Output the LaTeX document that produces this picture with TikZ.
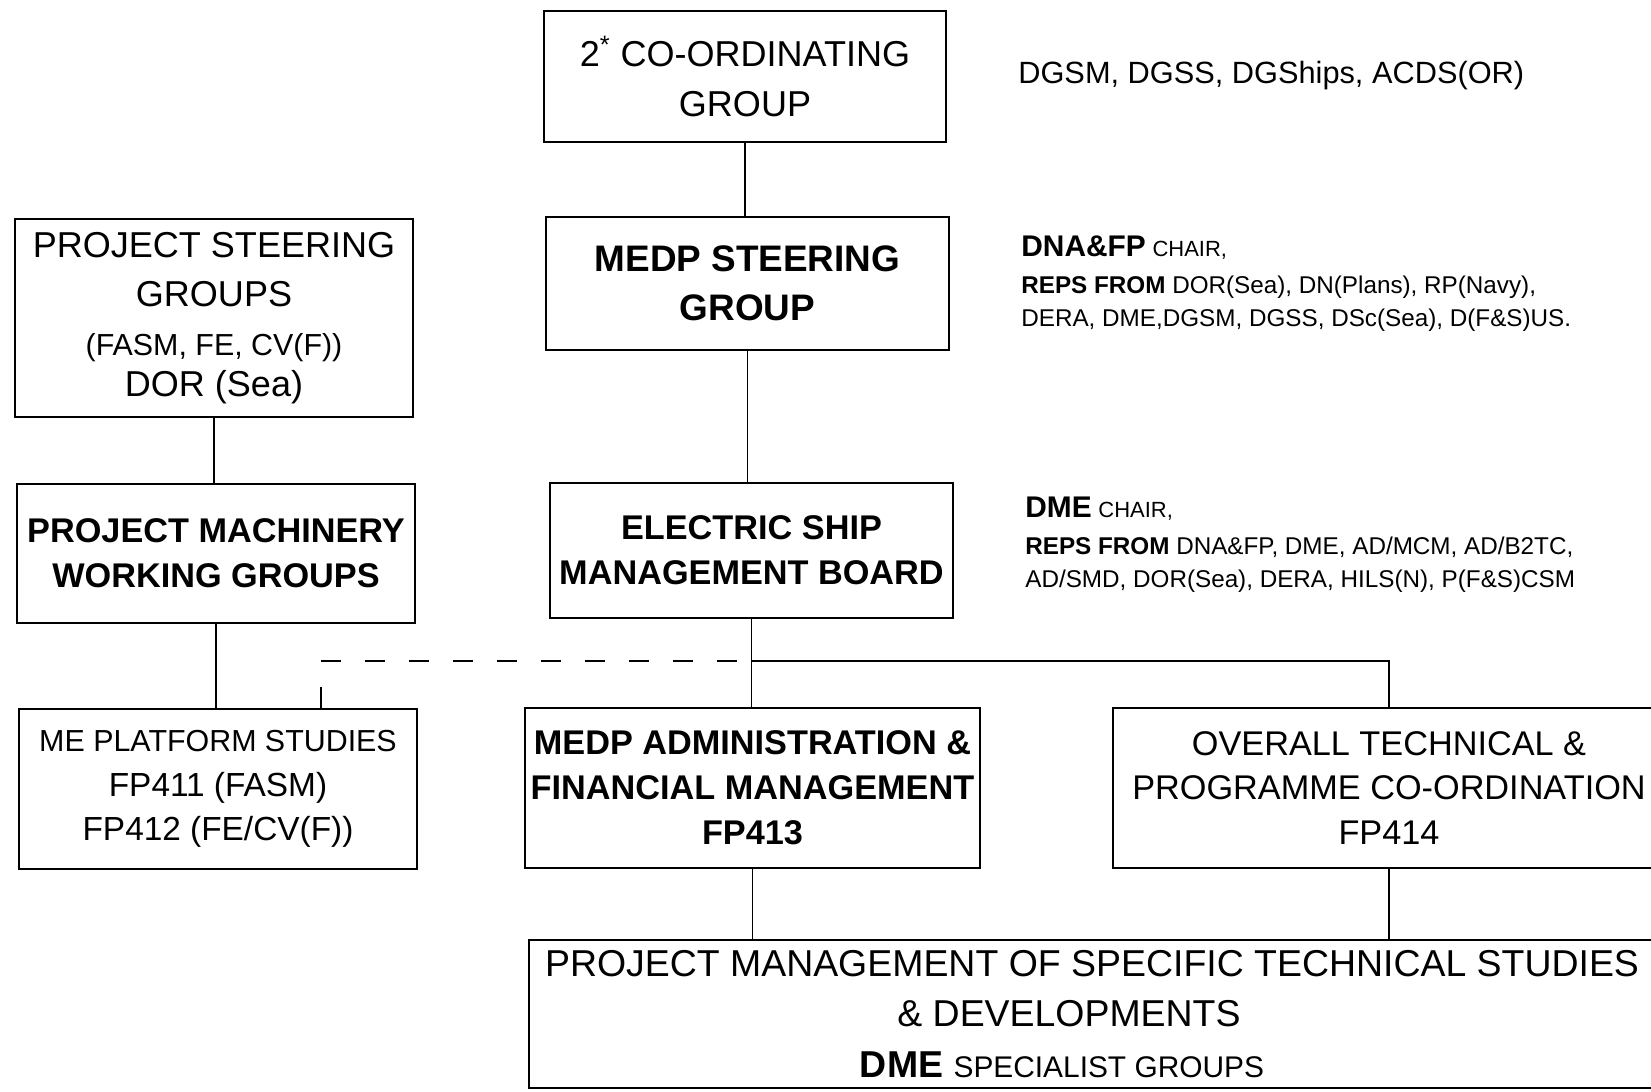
\documentclass[tikz,border=0pt]{standalone}
\usepackage{fontspec}
\setmainfont{Liberation Sans}
\usetikzlibrary{calc}

\begin{document}
\begin{tikzpicture}[
  box/.style={draw, line width=1.2pt, align=center, inner sep=0pt, font=\fontsize{20.5}{28}\selectfont},
  boxm/.style={box, font=\fontsize{19.5}{25.5}\selectfont},
  boxb/.style={box, font=\fontsize{19.5}{25.5}\selectfont\bfseries},
  link/.style={line width=0.85pt},
  dlink/.style={line width=1.2pt, dash pattern=on 0.4cm off 0.48cm},
  note/.style={anchor=west, align=left, inner sep=0pt, font=\fontsize{13.8}{19}\selectfont}
]
  \useasboundingbox (0,0) rectangle (33.02,21.82);

  % ----- Central column -----
  \node[box, minimum width=8.04cm, minimum height=2.62cm] (coord) at (14.9,20.29) {2\textsuperscript{*} CO-ORDINATING\\GROUP};
  \node[box, minimum width=8.06cm, minimum height=2.66cm, font=\fontsize{21}{28}\selectfont\bfseries] (msteer) at (14.95,16.15) {MEDP STEERING\\GROUP};
  \node[boxb, minimum width=8.06cm, minimum height=2.7cm] (esmb) at (15.03,10.81) {ELECTRIC SHIP\\MANAGEMENT BOARD};

  % ----- Left column -----
  \node[box, minimum width=7.96cm, minimum height=3.96cm] (psteer) at (4.28,15.46)
    {PROJECT STEERING\\GROUPS\\{\fontsize{17.3}{20}\selectfont (FASM, FE, CV(F))}\\[-5pt]DOR (Sea)};
  \node[boxb, minimum width=7.96cm, minimum height=2.78cm] (pmach) at (4.32,10.75) {PROJECT MACHINERY\\WORKING GROUPS};

  % ----- Work packages (y = 6) -----
  \node[boxm, minimum width=7.96cm, minimum height=3.2cm, font=\fontsize{19}{25.5}\selectfont] (meplat) at (4.36,6.04)
    {{\fontsize{17.3}{25.5}\selectfont ME PLATFORM STUDIES}\\FP411 (FASM)\\FP412 (FE/CV(F))};
  \node[boxb, minimum width=9.1cm, minimum height=3.2cm] (madmin) at (15.05,6.06) {MEDP ADMINISTRATION \&\\FINANCIAL MANAGEMENT\\FP413};
  \node[boxm, minimum width=11.04cm, minimum height=3.2cm] (otpc) at (27.78,6.06) {OVERALL TECHNICAL \&\\PROGRAMME CO-ORDINATION\\FP414};

  % ----- Bottom box -----
  \node[box, minimum width=22.52cm, minimum height=2.96cm, font=\fontsize{21.3}{28.5}\selectfont] (pmstudy) at (21.84,1.54)
    {PROJECT MANAGEMENT OF SPECIFIC TECHNICAL STUDIES\\\& DEVELOPMENTS\rule{0.92cm}{0pt}\\{\bfseries DME} {\fontsize{17}{28.5}\selectfont SPECIALIST GROUPS}\rule{1.2cm}{0pt}};

  % ----- Membership notes -----
  \node[note, font=\fontsize{17.5}{21}\selectfont] (dgsm) at (20.36,20.3) {DGSM, DGSS, DGShips, ACDS(OR)};
  \node[note] (dnafp) at (20.42,16.14)
    {{\fontsize{17}{19}\selectfont\bfseries DNA\&FP} {\fontsize{12.5}{19}\selectfont CHAIR,}\\[2pt]
     {\bfseries REPS FROM} DOR(Sea), DN(Plans), RP(Navy),\\
     DERA, DME,DGSM, DGSS, DSc(Sea), D(F\&S)US.};
  \node[note] (dme) at (20.5,10.92)
    {{\fontsize{17}{19}\selectfont\bfseries DME} {\fontsize{12.5}{19}\selectfont CHAIR,}\\[2pt]
     {\bfseries REPS FROM} DNA\&FP, DME, AD/MCM, AD/B2TC,\\
     AD/SMD, DOR(Sea), DERA, HILS(N), P(F\&S)CSM};

  % ----- Links -----
  \coordinate (jn) at (esmb.south |- 0,8.6);
  \coordinate (dend) at (6.42,8.6);
  \draw[link] (coord.south) -- (coord.south |- msteer.north);
  \draw[link] (msteer.south) -- (msteer.south |- esmb.north);
  \draw[link] (psteer.south) -- (psteer.south |- pmach.north);
  \draw[link] (pmach.south) -- (pmach.south |- meplat.north);
  \draw[link] (esmb.south) -- (esmb.south |- madmin.north);
  \draw[link] (jn) -| (otpc.north);
  \draw[dlink] (dend) -- (jn);
  \draw[link] (meplat.north -| dend) -- ++(0,0.42);
  \draw[link] (madmin.south) -- (madmin.south |- pmstudy.north);
  \draw[link] (otpc.south) -- (otpc.south |- pmstudy.north);
\end{tikzpicture}
\end{document}
